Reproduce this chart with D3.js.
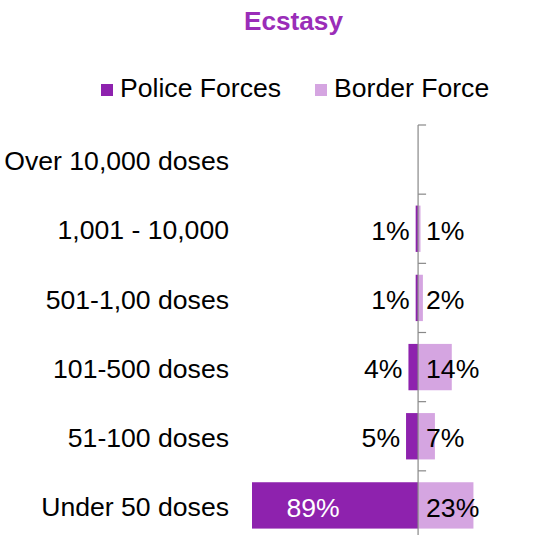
<!DOCTYPE html>
<html>
<head>
<meta charset="utf-8">
<script src="https://cdn.jsdelivr.net/npm/d3@7"></script>
<style>
  html, body { margin: 0; padding: 0; background: #fff; }
  svg { display: block; font-family: "Liberation Sans", Arial, sans-serif; }
</style>
</head>
<body>
<svg id="chart" width="535" height="535"></svg>
<script>
const categories = ["Over 10,000 doses", "1,001 - 10,000", "501-1,00 doses", "101-500 doses", "51-100 doses", "Under 50 doses"];
const policeForces = [null, 0.01, 0.01, 0.04, 0.05, 0.89];
const borderForce = [null, 0.01, 0.02, 0.14, 0.07, 0.23];
const seriesNames = ["Police Forces", "Border Force"];
const colors = { police: "#8E22AE", border: "#D5A5E1" };
const titleText = "Ecstasy";

const svg = d3.select("#chart");
const fs = 26.6;

const x = d3.scaleLinear().domain([-0.69, 0.465]).range([252, 530]).clamp(true);
const y = d3.scaleBand().domain(categories).range([125, 540]).paddingInner(0.33).paddingOuter(0.165);
const yAxisScale = d3.scaleBand().domain(categories).range([125, 540]);

// Title
svg.append("text").attr("x", 293.5).attr("y", 30).attr("text-anchor", "middle")
  .attr("font-size", 26.2).attr("font-weight", "bold").attr("fill", "#9A2DB8").text(titleText);

// Legend
const legend = [
  { name: seriesNames[0], color: colors.police, sx: 101, tx: 120 },
  { name: seriesNames[1], color: colors.border, sx: 315, tx: 334 }
];
legend.forEach(l => {
  svg.append("rect").attr("x", l.sx).attr("y", 84).attr("width", 12).attr("height", 12).attr("fill", l.color);
  svg.append("text").attr("x", l.tx).attr("y", 97).attr("font-size", fs).attr("fill", "#000").text(l.name);
});

// Bars
const rows = categories.map((c, i) => ({ cat: c, p: policeForces[i], b: borderForce[i] }));

svg.append("g").selectAll("rect.p").data(rows.filter(d => d.p != null)).join("rect")
  .attr("x", d => x(-d.p)).attr("y", d => y(d.cat))
  .attr("width", d => x(0) - x(-d.p)).attr("height", y.bandwidth())
  .attr("fill", colors.police);

svg.append("g").selectAll("rect.b").data(rows.filter(d => d.b != null)).join("rect")
  .attr("x", x(0)).attr("y", d => y(d.cat))
  .attr("width", d => x(d.b) - x(0)).attr("height", y.bandwidth())
  .attr("fill", colors.border);

// Axis (vertical at zero)
const axG = svg.append("g").attr("transform", `translate(${x(0)},0)`);
const boundaries = categories.map(c => yAxisScale(c));
axG.append("line").attr("x1", 0).attr("x2", 0).attr("y1", 125).attr("y2", 540).attr("stroke", "#888").attr("stroke-width", 1.2);
axG.selectAll("line.tk").data(boundaries).join("line").attr("class", "tk")
  .attr("x1", 0).attr("x2", 8).attr("y1", d => d).attr("y2", d => d)
  .attr("stroke", "#888").attr("stroke-width", 1.2);

// Category labels
svg.append("g").selectAll("text").data(categories).join("text")
  .attr("x", 229).attr("y", d => yAxisScale(d) + yAxisScale.bandwidth() / 2)
  .attr("dy", "0.4em").attr("text-anchor", "end").attr("font-size", fs).attr("fill", "#000")
  .text(d => d);

const fmt = d3.format(".0%");
const cy = d => y(d.cat) + y.bandwidth() / 2;

// Police labels
svg.append("g").selectAll("text").data(rows.filter(d => d.p != null)).join("text")
  .attr("x", d => d.p > 0.5 ? (x(-d.p) + x(0)) / 2 - 22 : x(-d.p) - 6)
  .attr("y", cy).attr("dy", "0.42em")
  .attr("text-anchor", d => d.p > 0.5 ? "middle" : "end")
  .attr("font-size", fs).attr("fill", d => d.p > 0.5 ? "#fff" : "#000")
  .text(d => fmt(d.p));

// Border labels
svg.append("g").selectAll("text").data(rows.filter(d => d.b != null)).join("text")
  .attr("x", d => x(0) + 8).attr("y", cy).attr("dy", "0.42em")
  .attr("text-anchor", "start").attr("font-size", fs).attr("fill", "#000")
  .text(d => fmt(d.b));
</script>
</body>
</html>
